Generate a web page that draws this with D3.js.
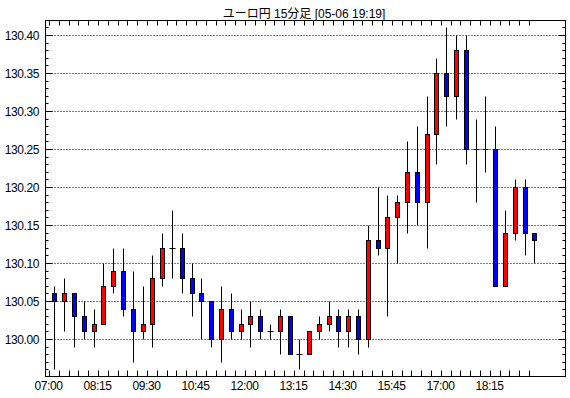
<!DOCTYPE html>
<html>
<head>
<meta charset="utf-8">
<script src="https://cdn.jsdelivr.net/npm/d3@7"></script>
<style>
  body { margin: 0; background: #fff; }
  text { font-family: "Liberation Sans", "Noto Sans CJK JP", sans-serif; font-size: 12px; fill: #000; }
</style>
</head>
<body>
<div id="chart"></div>
<script>
// 15 minute candles, EUR/JPY
let times = ["07:00","07:15","07:30","07:45","08:00","08:15","08:30","08:45","09:00","09:15",
             "09:30","09:45","10:00","10:15","10:30","10:45","11:00","11:15","11:30","11:45",
             "12:00","12:15","12:30","12:45","13:00","13:15","13:30","13:45","14:00","14:15",
             "14:30","14:45","15:00","15:15","15:30","15:45","16:00","16:15","16:30","16:45",
             "17:00","17:15","17:30","17:45","18:00","18:15","18:30","18:45","19:00","19:15"];
let open  = [130.06,130.05,130.06,130.03,130.01,130.02,130.07,130.09,130.04,130.01,
             130.02,130.08,130.12,130.12,130.08,130.06,130.05,130.00,130.04,130.01,
             130.02,130.03,130.01,130.01,130.03,129.98,129.98,130.01,130.02,130.03,
             130.01,130.03,130.00,130.13,130.12,130.16,130.18,130.22,130.18,130.27,
             130.35,130.32,130.38,130.25,130.25,130.25,130.07,130.14,130.20,130.14];
let high  = [130.07,130.08,130.06,130.05,130.04,130.10,130.12,130.12,130.09,130.07,
             130.11,130.14,130.17,130.14,130.10,130.08,130.05,130.07,130.06,130.04,
             130.05,130.04,130.02,130.04,130.03,130.00,130.01,130.03,130.05,130.04,
             130.04,130.04,130.15,130.20,130.19,130.19,130.26,130.28,130.32,130.37,
             130.41,130.40,130.40,130.29,130.32,130.28,130.17,130.21,130.21,130.14];
let low   = [129.96,130.01,129.99,130.00,129.99,130.02,130.06,130.03,129.97,130.00,
             129.99,130.07,130.08,130.06,130.03,130.00,129.99,129.97,130.00,130.00,
             129.99,130.00,130.00,129.98,129.98,129.96,129.98,130.00,130.01,129.99,
             129.99,129.98,129.99,130.11,130.03,130.10,130.14,130.15,130.12,130.23,
             130.28,130.29,130.23,130.18,130.22,130.07,130.07,130.13,130.11,130.10];
let close = [130.05,130.06,130.03,130.01,130.02,130.07,130.09,130.04,130.01,130.02,
             130.08,130.12,130.12,130.08,130.06,130.05,130.00,130.04,130.01,130.02,
             130.03,130.01,130.01,130.03,129.98,129.98,130.01,130.02,130.03,130.01,
             130.03,130.00,130.13,130.12,130.16,130.18,130.22,130.18,130.27,130.35,
             130.32,130.38,130.25,130.25,130.25,130.07,130.14,130.20,130.14,130.13];
let title = "ユーロ円 15分足 [05-06 19:19]";
let yLabels = [130.00, 130.05, 130.10, 130.15, 130.20, 130.25, 130.30, 130.35, 130.40];

let width = 570, height = 398;
let plotLeft = 45.5, plotRight = 565.5, plotTop = 20.5, plotBottom = 376.5;

let svg = d3.select("#chart").append("svg")
    .attr("width", width)
    .attr("height", height);

let x = d3.scaleLinear().domain([0, times.length - 1]).range([49.5, 529.5]);
let y = d3.scaleLinear().domain([130.00, 130.40]).range([339.5, 35.5]);
let py = (v) => Math.round(y(v) - 0.5) + 0.5;
let px = (i) => Math.round(x(i + 0.5)) + 0.5;

// title
svg.append("text")
    .attr("x", 304)
    .attr("y", 18)
    .attr("text-anchor", "middle")
    .text(title);

// grid lines
yLabels.forEach((v) => {
    svg.append("line")
        .attr("x1", plotLeft).attr("x2", plotRight)
        .attr("y1", y(v)).attr("y2", y(v))
        .attr("stroke", "black")
        .attr("stroke-dasharray", "1,2");
    svg.append("line")
        .attr("x1", plotLeft).attr("x2", plotLeft + 7)
        .attr("y1", y(v)).attr("y2", y(v))
        .attr("stroke", "black");
    svg.append("line")
        .attr("x1", plotRight - 7).attr("x2", plotRight)
        .attr("y1", y(v)).attr("y2", y(v))
        .attr("stroke", "black");
    svg.append("text")
        .attr("x", 39)
        .attr("y", y(v) + 4.5)
        .attr("text-anchor", "end")
        .attr("letter-spacing", "-0.4")
        .text(v.toFixed(2));
});

// minor y ticks
d3.range(12995, 13042).forEach((k) => {
    let v = k / 100;
    if (k % 5 == 0) return;
    svg.append("line")
        .attr("x1", plotLeft).attr("x2", plotLeft + 3)
        .attr("y1", py(v)).attr("y2", py(v))
        .attr("stroke", "black");
    svg.append("line")
        .attr("x1", plotRight - 3).attr("x2", plotRight)
        .attr("y1", py(v)).attr("y2", py(v))
        .attr("stroke", "black");
});

// x ticks
times.forEach((t, i) => {
    let xi = Math.round(x(i) - 0.5) + 0.5;
    svg.append("line")
        .attr("x1", xi).attr("x2", xi)
        .attr("y1", plotTop).attr("y2", plotTop + 5)
        .attr("stroke", "black");
    svg.append("line")
        .attr("x1", xi).attr("x2", xi)
        .attr("y1", plotBottom - 6).attr("y2", plotBottom)
        .attr("stroke", "black");
    if (i % 5 == 0) {
        svg.append("text")
            .attr("x", xi - 1)
            .attr("y", 390)
            .attr("text-anchor", "middle")
            .attr("letter-spacing", "-0.4")
            .text(t);
    }
});

// frame
svg.append("rect")
    .attr("x", plotLeft).attr("y", plotTop)
    .attr("width", plotRight - plotLeft).attr("height", plotBottom - plotTop)
    .attr("fill", "none")
    .attr("stroke", "black");

// candles
let candles = svg.append("g");
times.forEach((t, i) => {
    let cx = px(i);
    candles.append("line")
        .attr("x1", cx).attr("x2", cx)
        .attr("y1", py(high[i])).attr("y2", py(low[i]))
        .attr("stroke", "black");
    if (open[i] == close[i]) {
        candles.append("line")
            .attr("x1", cx - 3).attr("x2", cx + 3)
            .attr("y1", py(open[i])).attr("y2", py(open[i]))
            .attr("stroke", "black");
    } else {
        let yt = py(Math.max(open[i], close[i]));
        let yb = py(Math.min(open[i], close[i]));
        candles.append("rect")
            .attr("x", cx - 2)
            .attr("y", yt)
            .attr("width", 4)
            .attr("height", yb - yt)
            .attr("fill", close[i] > open[i] ? "#ff0000" : "#0000ff")
            .attr("stroke", "black");
    }
});
</script>
</body>
</html>
